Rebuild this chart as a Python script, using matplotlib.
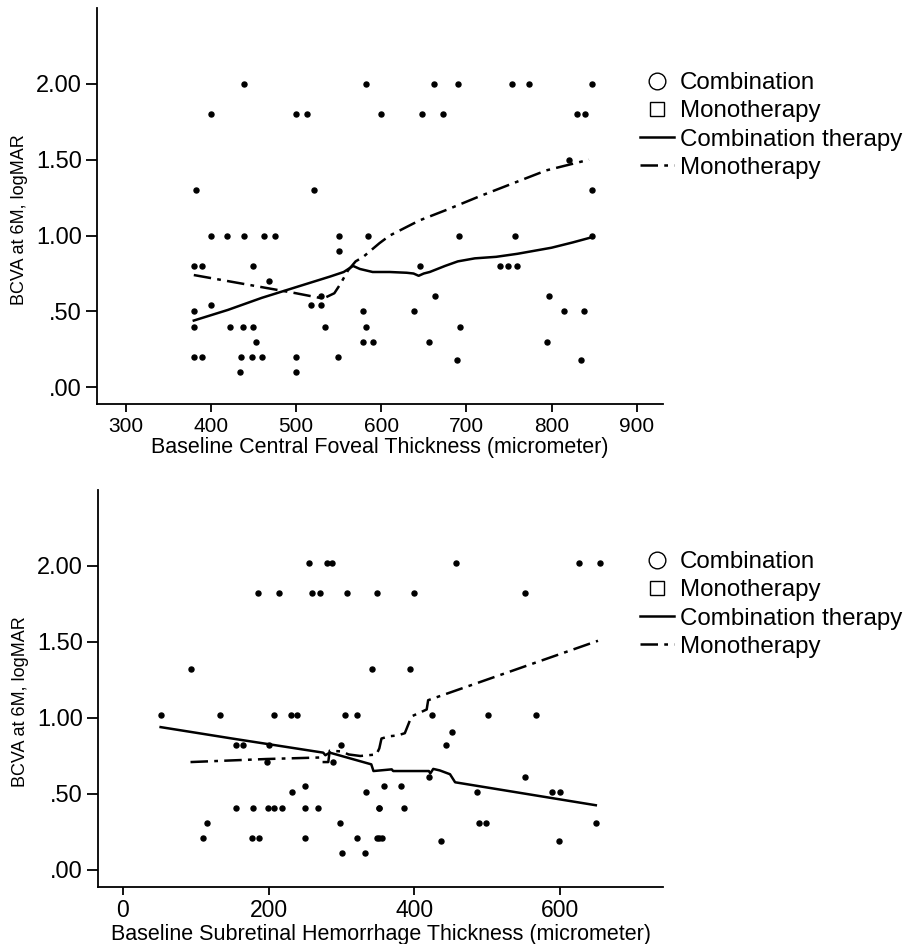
import matplotlib
matplotlib.use("Agg")
import matplotlib.pyplot as plt
from matplotlib.lines import Line2D

plt.rcParams['font.family'] = ['Liberation Sans', 'DejaVu Sans']

# --- top panel: baseline central foveal thickness ---
cft_x = [439, 582, 662, 690, 754, 774, 848,
         400, 500, 513, 600, 648, 673, 830, 839,
         820,
         383, 521, 848,
         400, 419, 439, 462, 475, 550, 585, 691, 757, 848,
         550,
         380, 390, 449, 646, 739, 749, 760,
         468,
         529, 663, 797,
         400, 518, 529,
         380, 579, 639, 815, 838,
         380, 423, 438, 449, 534, 582, 692,
         453, 579, 590, 656, 795,
         380, 390, 436, 448, 460, 500, 549,
         434, 500, 689, 835]
cft_y = [2.0] * 7 + [1.8] * 8 + [1.5] + [1.3] * 3 + [1.0] * 10 + [0.9] + \
        [0.8] * 7 + [0.7] + [0.6] * 3 + [0.54] * 3 + [0.5] * 5 + \
        [0.4] * 7 + [0.3] * 5 + [0.2] * 7 + [0.1, 0.1, 0.18, 0.18]

cft_comb_x = [380, 420, 460, 500, 540, 556, 567, 575, 590, 610, 630, 638,
              644, 650, 657, 675, 690, 710, 735, 760, 775, 800, 825, 848]
cft_comb_y = [0.44, 0.51, 0.59, 0.66, 0.73, 0.76, 0.80, 0.78, 0.76, 0.76,
              0.755, 0.75, 0.735, 0.75, 0.76, 0.80, 0.83, 0.85, 0.86, 0.88,
              0.895, 0.92, 0.955, 0.99]
cft_mono_x = [380, 440, 500, 532, 545, 552, 561, 570, 579, 598, 610, 645,
              677, 716, 755, 794, 844]
cft_mono_y = [0.74, 0.68, 0.62, 0.585, 0.62, 0.68, 0.77, 0.83, 0.86, 0.95,
              1.0, 1.10, 1.17, 1.26, 1.345, 1.43, 1.50]

# --- bottom panel: baseline subretinal hemorrhage thickness ---
sht_x = [255, 280, 287, 457, 626, 655,
         185, 214, 260, 270, 307, 349, 400, 552,
         93, 342, 394,
         52, 134, 207, 231, 239, 305, 322, 424, 501, 567,
         452,
         155, 165, 201, 300, 443,
         198, 289,
         420, 552,
         250, 358, 382,
         232, 334, 486, 589, 600,
         155, 179, 199, 207, 218, 250, 268, 351, 352, 386,
         115, 298, 489, 498, 649,
         110, 177, 187, 250, 321, 349, 352, 356,
         301, 333, 437, 599]
sht_y = [2.02] * 6 + [1.82] * 8 + [1.32] * 3 + [1.02] * 10 + [0.91] + \
        [0.82] * 5 + [0.71] * 2 + [0.61] * 2 + [0.55] * 3 + [0.51] * 5 + \
        [0.41] * 10 + [0.31] * 5 + [0.21] * 8 + [0.11, 0.11, 0.19, 0.19]

sht_comb_x = [52, 150, 275, 278, 284, 341, 344, 369, 371, 420, 422, 426,
              435, 449, 456, 649]
sht_comb_y = [0.94, 0.865, 0.772, 0.755, 0.772, 0.695, 0.651, 0.662, 0.651,
              0.651, 0.635, 0.665, 0.655, 0.63, 0.577, 0.426]
sht_mono_x = [93, 197, 270, 273, 282, 284, 300, 310, 326, 348, 352, 355,
              366, 377, 387, 392, 396, 417, 419, 652]
sht_mono_y = [0.71, 0.73, 0.74, 0.71, 0.71, 0.785, 0.78, 0.76, 0.75, 0.76,
              0.80, 0.865, 0.88, 0.885, 0.90, 0.96, 1.01, 1.056, 1.117, 1.508]

ytick_vals = [0.0, 0.5, 1.0, 1.5, 2.0]
ytick_labels = ['.00', '.50', '1.00', '1.50', '2.00']

W, H = 906, 944
dashdot = (0, (7, 2.5, 1.5, 2.5))


def px_rect(left, top, right, bottom):
    return [left / W, 1 - bottom / H, (right - left) / W, (bottom - top) / H]


def panel(fig, rect, xs, ys, comb, mono, xlim, xticks, xlabel, xfs, leg_top):
    ax = fig.add_axes(rect)
    ax.scatter(xs, ys, s=13, color='black', zorder=3)
    ax.plot(comb[0], comb[1], color='black', lw=1.8)
    ax.plot(mono[0], mono[1], color='black', lw=1.8, linestyle=dashdot)
    ax.set_xlim(*xlim)
    ax.set_ylim(-0.11, 2.5)
    ax.set_xticks(xticks)
    ax.set_yticks(ytick_vals)
    ax.set_yticklabels(ytick_labels)
    for s in ['top', 'right']:
        ax.spines[s].set_visible(False)
    for s in ['left', 'bottom']:
        ax.spines[s].set_linewidth(1.3)
    ax.tick_params(axis='y', length=8, width=1.3, labelsize=17, pad=3)
    ax.tick_params(axis='x', length=6, width=1.3, labelsize=xfs, pad=3)
    ax.set_xlabel(xlabel, fontsize=15.5, labelpad=1)
    ax.set_ylabel('BCVA at 6M, logMAR', fontsize=13)
    ax.yaxis.set_label_coords(-0.122, 0.466)

    handles = [
        Line2D([], [], marker='o', markersize=12, markerfacecolor='white',
               markeredgecolor='black', markeredgewidth=1, linestyle='none'),
        Line2D([], [], marker='s', markersize=10, markerfacecolor='white',
               markeredgecolor='black', markeredgewidth=1, linestyle='none'),
        Line2D([], [], color='black', lw=1.8),
        Line2D([], [], color='black', lw=1.8, linestyle=dashdot),
    ]
    labels = ['Combination', 'Monotherapy', 'Combination therapy', 'Monotherapy']
    fig.legend(handles, labels, loc='upper left',
               bbox_to_anchor=(640 / W, 1 - leg_top / H),
               frameon=False, fontsize=17.4, borderpad=0, borderaxespad=0,
               handlelength=1.41, handletextpad=0.25, labelspacing=0.26)
    return ax


fig = plt.figure(figsize=(W / 100, H / 100), dpi=100)

panel(fig, px_rect(97.3, 8, 663, 404), cft_x, cft_y,
      (cft_comb_x, cft_comb_y), (cft_mono_x, cft_mono_y),
      (266.7, 930.9), [300, 400, 500, 600, 700, 800, 900],
      'Baseline Central Foveal Thickness (micrometer)', 15, 72)

panel(fig, px_rect(98.3, 490, 663.3, 886.7), sht_x, sht_y,
      (sht_comb_x, sht_comb_y), (sht_mono_x, sht_mono_y),
      (-33.5, 741.6), [0, 200, 400, 600],
      'Baseline Subretinal Hemorrhage Thickness (micrometer)', 16.5, 551)

fig.savefig('out.png', dpi=100)
